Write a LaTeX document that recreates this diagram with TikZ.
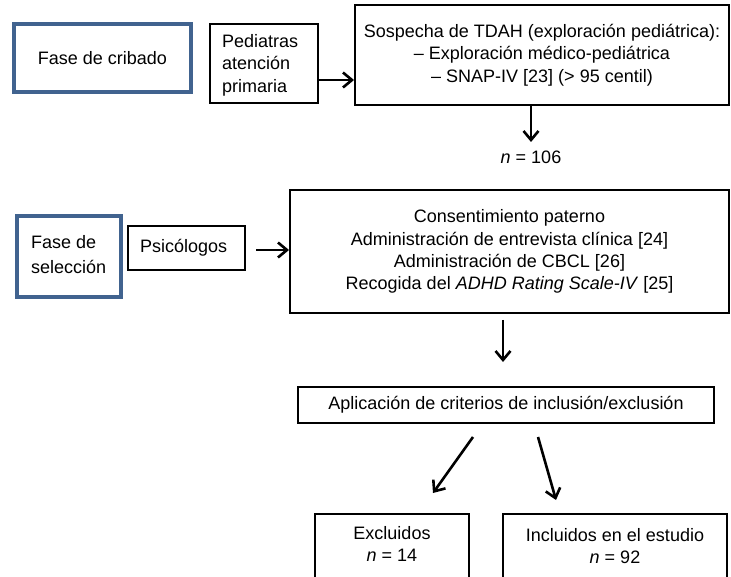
\documentclass[tikz,border=0pt]{standalone}
\usepackage{fontspec}
\setmainfont{Liberation Sans}
\usetikzlibrary{arrows.meta}
\definecolor{phase}{HTML}{41638F}
\tikzset{
  box/.style={draw=black, line width=2pt, inner sep=0pt, align=center, font=\fontsize{18}{22.3}\selectfont},
  phasebox/.style={draw=phase, line width=3.2pt, inner sep=0pt, align=left, font=\fontsize{18}{25}\selectfont},
  arr/.style={line width=2.6pt, -{Straight Barb[length=9pt,width=15pt,line width=2.6pt]}},
  lbl/.style={inner sep=0pt, font=\fontsize{18}{22}\selectfont}
}
\begin{document}
\begin{tikzpicture}[x=1pt,y=-1pt]
\useasboundingbox (0,0) rectangle (731,577);
\clip (0,0) rectangle (731,577);
\fill[white] (0,0) rectangle (731,577);
% top row
\node[phasebox, minimum width=177pt, minimum height=68pt] (cribado) at (102.5,58) {Fase de cribado};
\node[box, minimum width=108pt, minimum height=79pt] (pediatras) at (264,63.5) {};
\node[lbl, anchor=west, align=left, font=\fontsize{18}{22.5}\selectfont] (pedtxt) at (222,65) {Pediatras\\atención\\primaria};
\node[box, minimum width=374pt, minimum height=100pt] (sospecha) at (542,55) {Sospecha de TDAH (exploración pediátrica):\\– Exploración médico-pediátrica\\– SNAP-IV [23] (> 95 centil)};
\coordinate (s1) at (531,142);
\node[lbl] (n106) at (531,157) {\textit{n} = 106};
\draw[arr] (pediatras.east |- 0,80) -- (sospecha.west |- 0,80);
\draw[arr] (sospecha.south -| s1) -- (s1);
% middle row
\node[phasebox, minimum width=104pt, minimum height=81pt] (seleccion) at (69,256.5) {};
\node[lbl, anchor=west, align=left, font=\fontsize{18}{25}\selectfont] (seltxt) at (31,255) {Fase de\\selección};
\node[box, minimum width=117pt, minimum height=44pt] (psico) at (186.5,248) {};
\node[lbl, anchor=west] (psitxt) at (140,248) {Psicólogos};
\node[box, minimum width=439pt, minimum height=123pt] (consent) at (509.5,251.5) {Consentimiento paterno\\Administración de entrevista clínica [24]\\Administración de CBCL [26]\\Recogida del \textit{ADHD Rating Scale-IV} [25]};
\coordinate (pa) at (256,250);
\draw[arr] (pa) -- (consent.west |- pa);
% criteria
\node[box, minimum width=416pt, minimum height=36pt] (criterios) at (506,405) {Aplicación de criterios de inclusión/exclusión};
\coordinate (c0) at (503,320);
\coordinate (c1) at (503,362);
\draw[arr] (c0) -- (c1);
% bottom
\node[box, minimum width=154pt, minimum height=90pt, anchor=north] (excl) at (392,513) {};
\node[lbl, align=center] (excltxt) at (392,544) {Excluidos\\\textit{n} = 14};
\node[box, minimum width=224pt, minimum height=90pt, anchor=north] (incl) at (615,513) {};
\node[lbl, align=center] (incltxt) at (615,546) {Incluidos en el estudio\\\textit{n} = 92};
\coordinate (e0) at (473,437); \coordinate (e1) at (433,493);
\coordinate (i0) at (538,437); \coordinate (i1) at (556,500);
\draw[arr] (e0) -- (e1);
\draw[arr] (i0) -- (i1);
\end{tikzpicture}
\end{document}
